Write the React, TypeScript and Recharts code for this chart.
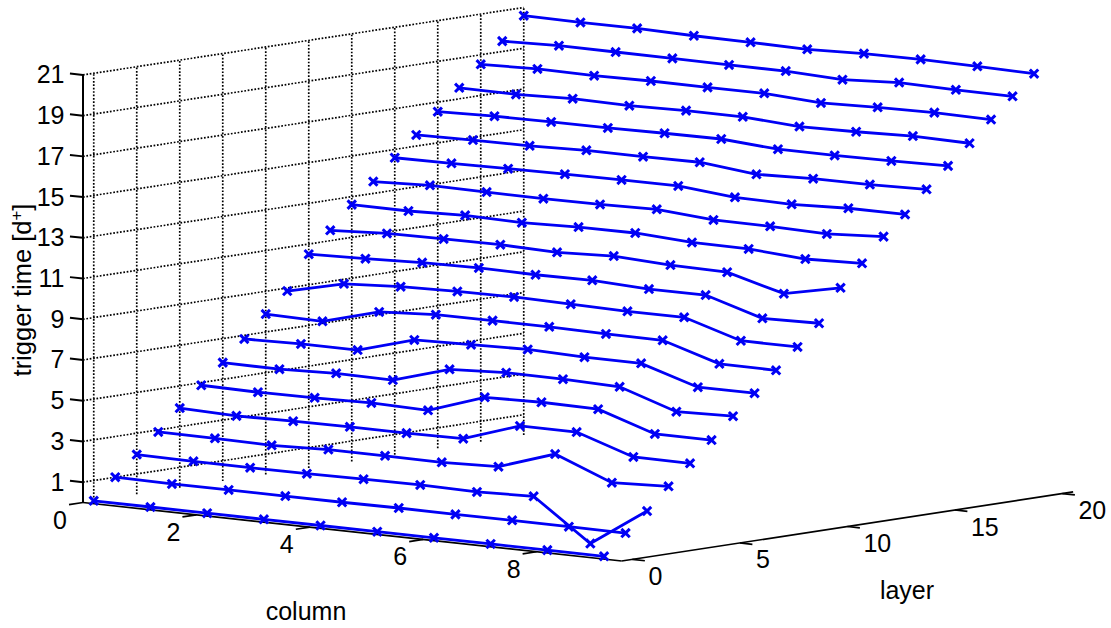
import { LineChart, Line, XAxis, YAxis, ReferenceDot } from "recharts";

const columns = [0, 1, 2, 3, 4, 5, 6, 7, 8, 9];
const columnTicks = [0, 2, 4, 6, 8];
const layerTicks = [0, 5, 10, 15, 20];
const gridLayers = [0, 2, 4, 6, 8, 10, 12, 14, 16, 18, 20];
const timeTicks = [1, 3, 5, 7, 9, 11, 13, 15, 17, 19, 21];

// one row per layer (0-20), one value per column (0-9)
const triggerTimes = [
  [0, 0, 0, 0, 0, 0, 0, 0, 0, 0],
  [1.0, 0.97, 0.98, 0.98, 0.98, 1.0, 0.99, 1.0, 0.99, 0.98],
  [1.95, 1.92, 1.91, 1.92, 1.95, 1.97, 1.93, 2.02, 0, 1.9],
  [2.9, 2.89, 2.85, 2.94, 2.94, 2.92, 3.01, 3.93, 2.83, 2.95],
  [3.91, 3.83, 3.87, 3.9, 3.89, 3.92, 4.85, 4.85, 3.93, 3.92],
  [4.87, 4.83, 4.86, 4.91, 4.85, 5.79, 5.85, 5.81, 4.9, 4.9],
  [5.82, 5.8, 5.9, 5.87, 6.7, 6.84, 6.82, 6.75, 5.83, 5.91],
  [6.82, 6.88, 6.88, 7.68, 7.75, 7.82, 7.74, 7.74, 6.87, 6.88],
  [7.88, 7.83, 8.59, 8.76, 8.77, 8.77, 8.72, 8.71, 7.86, 7.84],
  [8.85, 9.51, 9.67, 9.74, 9.77, 9.72, 9.67, 9.68, 8.83, 8.83],
  [10.5, 10.58, 10.69, 10.73, 10.7, 10.73, 10.6, 10.61, 9.77, 9.83],
  [11.51, 11.66, 11.69, 11.71, 11.64, 11.76, 11.62, 11.57, 10.82, 11.41],
  [12.61, 12.6, 12.69, 12.63, 12.72, 12.73, 12.57, 12.55, 12.36, 12.45],
  [13.58, 13.7, 13.67, 13.65, 13.67, 13.73, 13.51, 13.5, 13.43, 13.6],
  [14.59, 14.62, 14.66, 14.69, 14.71, 14.72, 14.46, 14.42, 14.53, 14.53],
  [15.55, 15.6, 15.62, 15.7, 15.69, 15.72, 15.43, 15.52, 15.53, 15.6],
  [16.53, 16.61, 16.63, 16.64, 16.68, 16.7, 16.5, 16.5, 16.53, 16.59],
  [17.54, 17.52, 17.61, 17.57, 17.63, 17.63, 17.45, 17.5, 17.59, 17.54],
  [18.53, 18.61, 18.58, 18.62, 18.61, 18.62, 18.45, 18.54, 18.58, 18.54],
  [19.51, 19.59, 19.58, 19.57, 19.55, 19.55, 19.43, 19.59, 19.54, 19.52],
  [20.6, 20.57, 20.58, 20.52, 20.5, 20.46, 20.55, 20.57, 20.53, 20.47],
];

const W = 1111;
const H = 628;
const FONT = "'Liberation Sans', Arial, sans-serif";
const BLUE = "#0000f5";

const COL_MIN = 0;
const COL_MAX = 9.5;
const LAYER_MIN = -0.5;
const LAYER_MAX = 20.5;
const LAYER_GRID_END = 20;
const TIME_MAX = 21;

// fixed 3D view of the plot box, flattened to the 2D value space of the chart
const project = (col: number, layer: number, time: number) => ({
  x: 83 + 56.7 * col + 21.5 * (layer - LAYER_MIN),
  y: 502.5 + 6.16 * col - 3.29 * (layer - LAYER_MIN) - 20.36 * time,
});

const segment = (a: number[], b: number[]) => [
  project(a[0], a[1], a[2]),
  project(b[0], b[1], b[2]),
];

const gridSegments = [
  ...timeTicks.map((t) => segment([COL_MIN, LAYER_MIN, t], [COL_MIN, LAYER_GRID_END, t])),
  ...gridLayers.map((l) => segment([COL_MIN, l, 0], [COL_MIN, l, TIME_MAX])),
];

const thinAxes = [
  segment([COL_MIN, LAYER_MIN, 0], [COL_MAX, LAYER_MIN, 0]),
  segment([COL_MAX, LAYER_MIN, 0], [COL_MAX, LAYER_MAX, 0]),
  ...columnTicks.map((c) => segment([c, LAYER_MIN, 0], [c, LAYER_MIN - 0.65, 0])),
  ...layerTicks.map((l) => segment([COL_MAX, l, 0], [COL_MAX + 0.22, l, 0])),
];

const timeAxis = [
  segment([COL_MIN, LAYER_MIN, 0], [COL_MIN, LAYER_MIN, TIME_MAX]),
  ...timeTicks.map((t) => segment([COL_MIN, LAYER_MIN, t], [COL_MIN - 0.23, LAYER_MIN, t])),
];

const layerLines = triggerTimes.map((row, layer) =>
  row.map((time, i) => project(columns[i], layer, time))
);

const CrossDot = (props: any) => {
  const { cx, cy, index } = props;
  const s = 4.2;
  return (
    <path
      key={index}
      d={`M${cx - s} ${cy - s}L${cx + s} ${cy + s}M${cx - s} ${cy + s}L${cx + s} ${cy - s}`}
      stroke={BLUE}
      strokeWidth={3}
      fill="none"
    />
  );
};

const tickText = (value: string, anchor: string, dx: number, dy: number, size = 25) => (p: any) => (
  <text
    x={p.cx + dx}
    y={p.cy + dy}
    textAnchor={anchor}
    fontFamily={FONT}
    fontSize={size}
    fill="#000"
  >
    {value}
  </text>
);

const App = () => {
  return (
    <div style={{ position: "fixed", left: 0, top: 0, width: W, height: H, background: "#fff" }}>
      <LineChart width={W} height={H} margin={{ top: 0, right: 0, bottom: 0, left: 0 }}>
        <XAxis type="number" dataKey="x" domain={[0, W]} hide allowDataOverflow />
        <YAxis type="number" domain={[0, H]} reversed hide allowDataOverflow />

        {gridSegments.map((d, i) => (
          <Line
            key={`grid-${i}`}
            data={d}
            dataKey="y"
            stroke="#000"
            strokeWidth={1.7}
            strokeDasharray="1.7 1.7"
            dot={false}
            activeDot={false}
            isAnimationActive={false}
          />
        ))}
        {thinAxes.map((d, i) => (
          <Line
            key={`axis-${i}`}
            data={d}
            dataKey="y"
            stroke="#000"
            strokeWidth={1.7}
            dot={false}
            activeDot={false}
            isAnimationActive={false}
          />
        ))}
        {timeAxis.map((d, i) => (
          <Line
            key={`time-axis-${i}`}
            data={d}
            dataKey="y"
            stroke="#000"
            strokeWidth={2}
            dot={false}
            activeDot={false}
            isAnimationActive={false}
          />
        ))}
        {layerLines.map((d, i) => (
          <Line
            key={`layer-${i}`}
            data={d}
            dataKey="y"
            stroke={BLUE}
            strokeWidth={2.8}
            dot={CrossDot}
            activeDot={false}
            isAnimationActive={false}
          />
        ))}

        {timeTicks.map((t) => {
          const p = project(COL_MIN, LAYER_MIN, t);
          return (
            <ReferenceDot
              key={`t-${t}`}
              x={p.x}
              y={p.y}
              r={0}
              shape={tickText(String(t), "end", -18.5, 8.5)}
            />
          );
        })}
        {columnTicks.map((c) => {
          const p = project(c, LAYER_MIN, 0);
          return (
            <ReferenceDot
              key={`c-${c}`}
              x={p.x}
              y={p.y}
              r={0}
              shape={tickText(String(c), "middle", -23, 26)}
            />
          );
        })}
        {layerTicks.map((l) => {
          const p = project(COL_MAX, l, 0);
          return (
            <ReferenceDot
              key={`l-${l}`}
              x={p.x}
              y={p.y}
              r={0}
              shape={tickText(String(l), "start", 16, 25.5)}
            />
          );
        })}

        <ReferenceDot x={306} y={620} r={0} shape={tickText("column", "middle", 0, 0)} />
        <ReferenceDot x={907} y={598.5} r={0} shape={tickText("layer", "middle", 0, 0)} />
        <ReferenceDot
          x={31}
          y={290}
          r={0}
          shape={(p: any) => (
            <text
              transform={`rotate(-90 ${p.cx} ${p.cy})`}
              x={p.cx}
              y={p.cy}
              textAnchor="middle"
              fontFamily={FONT}
              fontSize={25.5}
              fill="#000"
            >
              trigger time [d<tspan dy={-9} fontSize={17}>+</tspan><tspan dy={9}>]</tspan>
            </text>
          )}
        />
      </LineChart>
    </div>
  );
};

export default App;
